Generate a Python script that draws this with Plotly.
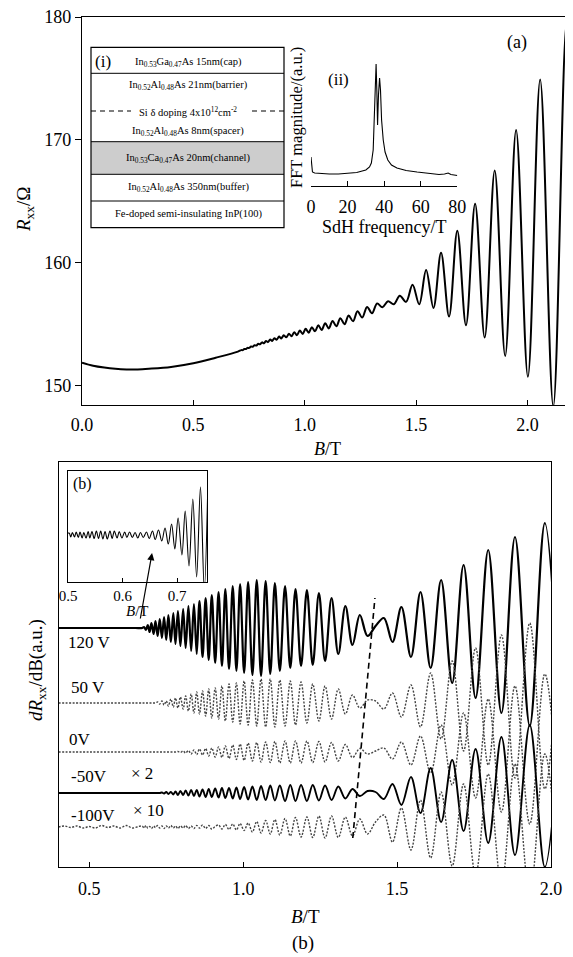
import plotly.graph_objects as go

# the page body adds an 8 px margin, so the figure is drawn 8 px smaller and
# every reference pixel position is shifted by that margin in px()/py()
W, H = 573, 957
PAD = 8
FW, FH = W - PAD, H - PAD
SERIF = "Liberation Serif, Times New Roman, serif"

# ---------------- panel (a): Rxx(B) ----------------
a_b_low = [0.00, 0.05, 0.10, 0.15, 0.20, 0.25, 0.30, 0.40, 0.50, 0.60, 0.70]
a_r_low = [151.85, 151.60, 151.45, 151.35, 151.30, 151.30, 151.35, 151.50, 151.80, 152.25, 152.75]

# SdH extrema (B in T, R in ohm)
a_b_osc = [0.715, 0.722, 0.729, 0.736, 0.743, 0.751, 0.759, 0.766, 0.774, 0.783,
           0.791, 0.799, 0.808, 0.817, 0.826, 0.835, 0.845, 0.854, 0.864, 0.874,
           0.885, 0.895, 0.906, 0.917, 0.929, 0.941, 0.953, 0.965, 0.978, 0.991,
           1.004, 1.018, 1.032, 1.046, 1.061, 1.076, 1.092, 1.108, 1.125, 1.142,
           1.160, 1.179, 1.197, 1.217, 1.237, 1.258, 1.280, 1.302, 1.325, 1.349,
           1.374, 1.400, 1.427, 1.455, 1.484, 1.514, 1.545, 1.578, 1.612, 1.648,
           1.685, 1.724, 1.765, 1.808, 1.853, 1.900, 1.949, 2.002, 2.057, 2.116,
           2.177, 2.243]
a_r_osc = [152.87, 152.87, 152.96, 152.96, 153.05, 153.05, 153.16, 153.14, 153.27, 153.24,
           153.39, 153.34, 153.50, 153.43, 153.61, 153.52, 153.73, 153.62, 153.84, 153.72,
           153.97, 153.82, 154.09, 153.91, 154.20, 154.00, 154.33, 154.09, 154.46, 154.19,
           154.60, 154.29, 154.74, 154.40, 154.89, 154.51, 155.05, 154.64, 155.25, 154.81,
           155.46, 154.98, 155.69, 155.22, 156.03, 155.52, 156.39, 155.87, 156.66, 156.36,
           156.85, 156.60, 157.30, 156.80, 158.20, 156.60, 159.40, 156.30, 160.80, 155.60,
           162.60, 154.90, 164.80, 153.90, 167.50, 152.40, 170.80, 150.70, 174.90, 148.30,
           179.70, 147.50]

# inset (ii): FFT spectrum
fft_f = [0, 0.3, 0.8, 2, 5, 10, 15, 20, 25, 28, 30, 32, 33, 34, 34.8, 35.3, 35.6, 36.0, 36.4,
         36.9, 37.5, 38.0, 38.6, 39.5, 40.5, 42, 44, 47, 52, 58, 64, 70, 73, 75, 76.5, 78, 80]
fft_m = [29, 18, 14, 13, 12.5, 12, 12, 12.5, 13.5, 15, 16, 19, 23, 36, 76, 111, 122, 96, 61,
         91, 108, 96, 66, 46, 34, 26, 21, 18, 15.5, 14, 12.5, 11.5, 12, 13, 11.5, 11, 10.5]

# ---------------- panel (b): dRxx/dB for several gate voltages ----------------
b_pre = [0.40, 0.50, 0.60, 0.65]
b_ext = [0.672, 0.678, 0.684, 0.690, 0.696, 0.702, 0.709, 0.715, 0.722, 0.729,
         0.736, 0.743, 0.750, 0.757, 0.765, 0.773, 0.780, 0.788, 0.796, 0.805,
         0.813, 0.822, 0.831, 0.840, 0.849, 0.858, 0.868, 0.878, 0.888, 0.898,
         0.909, 0.920, 0.931, 0.942, 0.954, 0.966, 0.978, 0.990, 1.003, 1.016,
         1.030, 1.044, 1.058, 1.073, 1.088, 1.103, 1.119, 1.136, 1.153, 1.170,
         1.188, 1.207, 1.226, 1.246, 1.266, 1.287, 1.309, 1.332, 1.355, 1.379,
         1.404, 1.430, 1.457, 1.485, 1.514, 1.545, 1.576, 1.609, 1.643, 1.679,
         1.716, 1.755, 1.796, 1.839, 1.883, 1.931, 1.980, 2.032]

gate_labels = ["120 V", "50 V", "0V", "-50V", "-100V"]
gate_offset = [239, 164, 115, 74, 40]

d_120 = [0, 1, -2, 3, -4, 5, -6, 7, -8, 9,
         -10, 11, -12, 13, -14, 15, -16, 17, -18, 19,
         -20, 22, -23, 24, -26, 27, -29, 30, -32, 33,
         -35, 36, -38, 39, -41, 42, -43, 44, -45, 46,
         -47, 48, -48, 47, -46, 45, -43, 42, -40, 39,
         -38, 38, -37, 35, -33, 30, -26, 22, -17, 13,
         -8, 2, 10, -14, 21, -29, 36, -40, 48, -55,
         63, -70, 78, -85, 91, -98, 105, -110]
d_50 = [0, 0, 0, 0, 0, 0, 0, 0, 1, -1,
        2, -2, 2, -3, 4, -4, 5, -5, 6, -6,
        7, -8, 9, -10, 11, -11, 12, -13, 14, -15,
        15, -16, 17, -18, 19, -19, 20, -21, 22, -22,
        23, -23, 24, -24, 24, -24, 23, -23, 22, -22,
        21, -20, 19, -18, 17, -16, 14, -11, 8, -5,
        3, 2, -6, 10, -14, 18, -24, 30, -36, 42,
        -48, 55, -62, 68, -75, 80, -86, 90]
d_0 = [0, 0, 0, 0, 0, 0, 0, 0, 0, 0,
       0, 0, 0, 0, 0, 0, 0, 0.5, -0.5, 1,
       -1, 1.5, -2, 2, -2.5, 3, -3, 3.5, -4, 4,
       -5, 5, -5.5, 6, -6.5, 7, -7.5, 8, -8.5, 9,
       -9, 9.5, -10, 10, -10.5, 10.5, -11, 11, -11, 11,
       -11, 11, -10.5, 10.5, -10, 9.5, -9, 7.5, -5.5, 3.5,
       -2, 1, 4, -7, 10, -13, 16, -21, 27, -33,
       39, -46, 53, -60, 66, -72, 78, -82]
d_m50 = [0, 0, 0, 0, 0, 0, 0, 0, 0, 0,
         0.5, -0.5, 1, -1, 1, -1.5, 1.5, -2, 2, -2,
         2.5, -2.5, 3, -3, 3, -3.5, 3.5, -4, 4, -4,
         4.5, -4.5, 5, -5, 5, -5.5, 5.5, -6, 6, -6.5,
         6.5, -7, 7, -7, 7.5, -7.5, 7.5, -8, 8, -8,
         8, -8, 8, -7.5, 7.5, -7, 6.5, -5.5, 4, -3,
         2, 1, -6, 9, -12, 16, -20, 25, -29, 33,
         -38, 44, -50, 56, -62, 68, -74, 78]
d_m100 = [1, -1, 1.5, -1, 0.5, -1.5, 1, -0.5, 1.5, -1,
          1, -1.5, 1, -1, 1.5, -1, 1, -1.5, 1, -1,
          1.5, -1.5, 1, -1.5, 1.5, -1, 2, -1.5, 1.5, -2,
          0.5, 2, -2, 2.5, -2.5, 3, -3, 3.5, -3.5, 4,
          -5, 5.5, -6, 6.5, -7, 7.5, -8, 8.5, -9, 9.5,
          -10, 10, -10.5, 11, -11, 11, -10.5, 10, -9, 8,
          -7, 5, 12, -15, 19, -23, 27, -31, 35, -39,
          43, -48, 53, -58, 63, -68, 73, -76]
# -100 V trace is noisy below the oscillation onset
m100_pre_b = [0.40, 0.42, 0.44, 0.46, 0.48, 0.50, 0.52, 0.54, 0.56, 0.58, 0.60, 0.62, 0.64, 0.66]
m100_pre_d = [0, 1, -0.5, 1, -1, 0.5, -1, 1.5, -0.5, 1, -1, 1.5, -1, 0.5]

gate_dev = [d_120, d_50, d_0, d_m50, d_m100]

# dashed guide line through the beating nodes
node_b = [1.356, 1.428]
node_y = [29, 269]

# inset of panel (b): low-field part of the 120 V trace
ins_b = [0.502, 0.505, 0.508, 0.512, 0.515, 0.519, 0.522, 0.526, 0.529, 0.533,
         0.537, 0.540, 0.544, 0.548, 0.552, 0.556, 0.560, 0.564, 0.568, 0.572,
         0.577, 0.581, 0.585, 0.590, 0.594, 0.599, 0.604, 0.608, 0.613, 0.618,
         0.623, 0.628, 0.633, 0.638, 0.644, 0.649, 0.655, 0.660, 0.666, 0.672,
         0.678, 0.684, 0.690, 0.696, 0.702, 0.709, 0.715, 0.722, 0.729, 0.736,
         0.743, 0.750, 0.757]
ins_d = [2, -2, 2.5, -2, 3, -2.5, 3, -3, 2.5, -3,
         3.5, -3, 3.5, -3.5, 4, -3.5, 4, -4, 3.5, -4,
         4, -3.5, 4, -3, 3.5, -3, 3, -2.5, 3, -2.5,
         2.5, -3, 2.5, -2.5, 3, -3.5, 4, -4.5, 5, -6,
         7, -9, 11, -14, 17, -20, 24, -31, 36, -42,
         48, -54, 62]
ins_base = 47

layers = [
    "In<sub>0.53</sub>Ga<sub>0.47</sub>As 15nm(cap)",
    "In<sub>0.52</sub>Al<sub>0.48</sub>As 21nm(barrier)",
    "Si δ doping 4x10<sup>12</sup>cm<sup>-2</sup>",
    "In<sub>0.52</sub>Al<sub>0.48</sub>As 8nm(spacer)",
    "In<sub>0.53</sub>Ca<sub>0.47</sub>As 20nm(channel)",
    "In<sub>0.52</sub>Al<sub>0.48</sub>As 350nm(buffer)",
    "Fe-doped semi-insulating InP(100)",
]


def px(x):
    return (x - PAD) / FW


def py(y):
    return 1 - (y - PAD) / FH


fig = go.Figure()

fig.add_trace(go.Scatter(
    x=a_b_low + a_b_osc, y=a_r_low + a_r_osc, mode="lines",
    line=dict(color="black", width=2, shape="spline"),
    xaxis="x", yaxis="y", showlegend=False, hoverinfo="skip"))

fig.add_trace(go.Scatter(
    x=fft_f, y=fft_m, mode="lines", line=dict(color="black", width=1.1),
    xaxis="x3", yaxis="y3", showlegend=False, hoverinfo="skip"))

styles = [
    dict(color="black", width=2.2),
    dict(color="#444", width=1.4, dash="2px,1.5px"),
    dict(color="#444", width=1.4, dash="2px,1.5px"),
    dict(color="black", width=1.9),
    dict(color="#444", width=1.4, dash="2px,1.5px"),
]
for lab, off, dev, st in zip(gate_labels, gate_offset, gate_dev, styles):
    if lab == "-100V":
        xs = m100_pre_b + b_ext
        ys = [off + v for v in m100_pre_d + dev]
    else:
        xs = b_pre + b_ext
        ys = [off] * len(b_pre) + [off + v for v in dev]
    fig.add_trace(go.Scatter(
        x=xs, y=ys, mode="lines", line=dict(shape="spline", **st),
        xaxis="x2", yaxis="y2", showlegend=False, hoverinfo="skip"))

fig.add_trace(go.Scatter(
    x=node_b, y=node_y, mode="lines", line=dict(color="black", width=1.6, dash="6px,4px"),
    xaxis="x2", yaxis="y2", showlegend=False, hoverinfo="skip"))

fig.add_trace(go.Scatter(
    x=[0.495] + ins_b, y=[ins_base] + [ins_base + v for v in ins_d], mode="lines",
    line=dict(color="black", width=1.1, shape="spline"),
    xaxis="x4", yaxis="y4", showlegend=False, hoverinfo="skip"))

tickfont = dict(family=SERIF, size=18, color="black")
frame = dict(showline=True, linecolor="black", linewidth=1.2, mirror=True, automargin=False,
             showgrid=False, zeroline=False, tickcolor="black", tickfont=tickfont,
             ticklabeloverflow="allow")

fig.update_layout(
    template="none",
    width=FW, height=FH, margin=dict(l=0, r=0, t=0, b=0, pad=0), autosize=False,
    paper_bgcolor="white", plot_bgcolor="white",
    xaxis=dict(frame, domain=[px(82), px(572)], range=[0, 2.2], anchor="y",
               tickvals=[0, 0.5, 1, 1.5, 2], ticktext=["0.0", "0.5", "1.0", "1.5", "2.0"],
               ticks="inside", ticklen=5, ticklabelstandoff=3),
    yaxis=dict(frame, domain=[py(405), py(17)], range=[148.4, 180], anchor="x",
               tickvals=[150, 160, 170, 180], ticks="outside", ticklen=6),
    xaxis2=dict(frame, domain=[px(58.5), px(551)], range=[0.4, 2.0], anchor="y2",
                tickvals=[0.5, 1, 1.5, 2], ticktext=["0.5", "1.0", "1.5", "2.0"],
                ticks="inside", ticklen=5, ticklabelstandoff=5),
    yaxis2=dict(frame, domain=[py(867), py(462)], range=[0, 405], anchor="x2",
                showticklabels=False, ticks=""),
    xaxis3=dict(domain=[px(311), px(457.3)], range=[0, 80], anchor="y3", automargin=False,
                showline=True, linecolor="black", linewidth=1.1, showgrid=False, zeroline=False,
                tickvals=[0, 20, 40, 60, 80], ticks="inside", ticklen=5, tickcolor="black",
                tickfont=tickfont, ticklabelstandoff=4, ticklabeloverflow="allow"),
    yaxis3=dict(domain=[py(186), py(60)], range=[0, 126], anchor="x3", visible=False,
                automargin=False),
    xaxis4=dict(frame, domain=[px(68), px(207)], range=[0.5, 0.755], anchor="y4",
                tickvals=[0.5, 0.6, 0.7], ticktext=["0.5", "0.6", "0.7"],
                ticks="inside", ticklen=4, tickfont=dict(family=SERIF, size=15, color="black")),
    yaxis4=dict(frame, domain=[py(582), py(471)], range=[0, 111], anchor="x4",
                showticklabels=False, ticks=""),
)

# layer-structure sketch, inset (i)
bx0, bx1 = 91, 284
shapes = [
    dict(type="rect", x0=px(bx0), x1=px(bx1), y0=py(141.7), y1=py(174.3),
         fillcolor="#cdcdcd", line=dict(width=0), layer="below"),
    dict(type="rect", x0=px(bx0), x1=px(bx1), y0=py(227.7), y1=py(47.3),
         line=dict(color="black", width=1.2)),
]
for yy in [73.3, 141.7, 174.3, 201]:
    shapes.append(dict(type="line", x0=px(bx0), x1=px(bx1), y0=py(yy), y1=py(yy),
                       line=dict(color="black", width=1)))
for xa, xb in [(bx0, 131), (252, bx1)]:
    shapes.append(dict(type="line", x0=px(xa), x1=px(xb), y0=py(111), y1=py(111),
                       line=dict(color="black", width=1.1, dash="5px,4px")))
for s in shapes:
    s.update(xref="paper", yref="paper")
fig.update_layout(shapes=shapes)

ann = []


def note(text, x, y, size, angle=0):
    ann.append(dict(text=text, x=px(x), y=py(y), xref="paper", yref="paper",
                    xanchor="center", yanchor="middle", showarrow=False, textangle=angle,
                    font=dict(family=SERIF, size=size, color="black")))


for txt, yy in zip(layers, [63, 85, 111, 131.7, 158.3, 187.7, 214]):
    note(txt, 188, yy, 10.5)
note("(i)", 103, 62, 17)
note("(ii)", 338, 80, 17)
note("(a)", 517, 43, 18)
note("SdH frequency/T", 384, 227, 18)
note("FFT magnitude/(a.u.)", 296, 118, 16.5, angle=-90)
note("<i>B</i>/T", 327, 449, 18)
note("<i>R</i><sub>xx</sub>/Ω", 25, 210, 19, angle=-90)

for lab, xx, yy in zip(gate_labels, [89, 88, 80, 89, 93], [642, 687, 739, 776, 815]):
    note(lab, xx, yy, 17)
note("× 2", 142, 773, 17)
note("× 10", 148, 810, 17)
note("(b)", 82, 484, 16)
note("<i>B</i>/T", 137, 611, 15)
note("<i>d</i><i>R</i><sub>xx</sub>/dB(a.u.)", 37, 670, 19, angle=-90)
note("<i>B</i>/T", 305, 916, 19)
note("(b)", 303, 943, 19)

ann.append(dict(x=0.704, y=314, ax=0.665, ay=247, xref="x2", yref="y2", axref="x2", ayref="y2",
                text="", showarrow=True, arrowhead=2, arrowsize=1.2, arrowwidth=1.2,
                arrowcolor="black"))
fig.update_layout(annotations=ann)

fig.write_html("out.html")
